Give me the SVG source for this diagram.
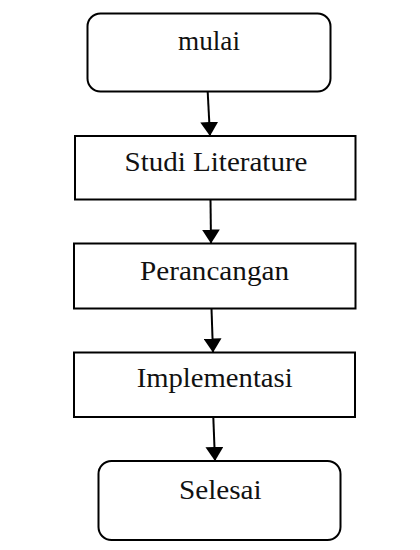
<svg xmlns="http://www.w3.org/2000/svg" width="420" height="550" viewBox="0 0 420 550">
<defs>
<style>
.box{fill:#fff;stroke:#000;stroke-width:2}
.lbl{font-family:"Liberation Serif","Times New Roman",serif;font-size:28px;fill:#111;text-anchor:middle}
.edge{stroke:#000;stroke-width:2;fill:none}
</style>
<marker id="arr" viewBox="0 0 10 10" refX="10" refY="5" markerWidth="8.5" markerHeight="8.5" markerUnits="userSpaceOnUse" orient="auto">
<path d="M0,0 L10,5 L0,10 z" fill="#000"/>
</marker>
<marker id="ah" viewBox="0 0 14 18" refX="14" refY="9" markerWidth="14" markerHeight="18" markerUnits="userSpaceOnUse" orient="auto">
<path d="M0,0 L14,9 L0,18 z" fill="#000"/>
</marker>
</defs>
<rect width="420" height="550" fill="#fff"/>
<g id="connectors">
<line class="edge" x1="207.7" y1="92" x2="210" y2="136" marker-end="url(#ah)"/>
<line class="edge" x1="210.5" y1="199.5" x2="211" y2="243.5" marker-end="url(#ah)"/>
<line class="edge" x1="211.5" y1="308.5" x2="213" y2="352.5" marker-end="url(#ah)"/>
<line class="edge" x1="213.3" y1="417" x2="215" y2="461" marker-end="url(#ah)"/>
</g>
<g id="mulai">
<rect class="box" x="87.5" y="13.5" width="243" height="78" rx="13"/>
<text class="lbl" x="209" y="50" textLength="62" lengthAdjust="spacingAndGlyphs">mulai</text>
</g>
<g id="studi">
<rect class="box" x="75" y="136" width="280.5" height="63.5"/>
<text class="lbl" x="216" y="171" textLength="183" lengthAdjust="spacingAndGlyphs">Studi Literature</text>
</g>
<g id="perancangan">
<rect class="box" x="74" y="243.5" width="281.5" height="65"/>
<text class="lbl" x="214.5" y="280" textLength="149" lengthAdjust="spacingAndGlyphs">Perancangan</text>
</g>
<g id="implementasi">
<rect class="box" x="74" y="352.5" width="281" height="64.5"/>
<text class="lbl" x="214.7" y="387" textLength="156" lengthAdjust="spacingAndGlyphs">Implementasi</text>
</g>
<g id="selesai">
<rect class="box" x="98.5" y="461" width="242" height="79" rx="13"/>
<text class="lbl" x="220.3" y="498.5" textLength="82.7" lengthAdjust="spacingAndGlyphs">Selesai</text>
</g>
</svg>
